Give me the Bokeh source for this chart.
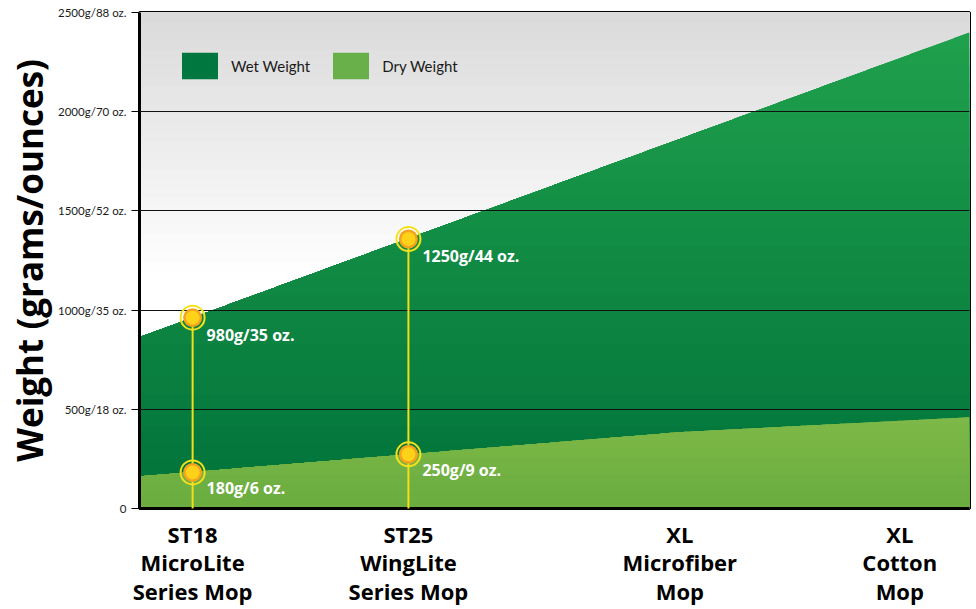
import numpy as np
from bokeh.plotting import figure
from bokeh.models import FixedTicker, Legend, LegendItem, Range1d
from bokeh.core.properties import value
from bokeh.embed import file_html
from bokeh.resources import INLINE

# ---------------- data ----------------
categories = ["ST18\nMicroLite\nSeries Mop", "ST25\nWingLite\nSeries Mop",
              "XL\nMicrofiber\nMop", "XL\nCotton\nMop"]
cat_x = [64, 324, 651, 916]

area_x = [0, 324, 651, 1000]
wet_weight = [864, 1361, 1863, 2399]
dry_weight = [162, 273, 385, 460]

marker_x = [64, 324]
marker_wet = [962, 1358]
marker_dry = [182, 273]
wet_labels = ["980g/35 oz.", "1250g/44 oz."]
dry_labels = ["180g/6 oz.", "250g/9 oz."]

y_ticks = [0, 500, 1000, 1500, 2000, 2500]
y_tick_labels = ["0", "500g/18 oz.", "1000g/35 oz.", "1500g/52 oz.",
                 "2000g/70 oz.", "2500g/88 oz."]

# ---------------- helpers ----------------
def hex2rgb(h):
    h = h.lstrip("#")
    return np.array([int(h[i:i + 2], 16) for i in (0, 2, 4)], dtype=float)

def lerp(c0, c1, t):
    a, b = hex2rgb(c0), hex2rgb(c1)
    c = a + (b - a) * t
    return "#%02x%02x%02x" % tuple(int(round(v)) for v in c)

W, H = 976, 609
BL, BR, BT, BB = 139, 7, 12, 101
p = figure(width=W, height=H, x_range=Range1d(0, 1000), y_range=Range1d(0, 2500),
           output_backend="svg", toolbar_location=None,
           min_border_left=BL, min_border_right=BR, min_border_top=BT, min_border_bottom=BB)
p.background_fill_color = "white"
p.border_fill_color = "white"
p.outline_line_color = "black"
p.outline_line_width = 3
frame_h = H - BT - BB

xs = np.linspace(0, 1000, 401)
wet_s = np.interp(xs, area_x, wet_weight)
dry_s = np.interp(xs, area_x, dry_weight)

# background grey gradient
n_bg = 30
for k in range(n_bg):
    t = k / (n_bg - 1)
    lvl = 1150 + t * 1350
    p.quad(left=0, right=1000, bottom=lvl, top=2500,
           fill_color=lerp("#ffffff", "#d9d9d9", t), line_color=None)

# wet weight area, vertical gradient
n_g = 30
top_col, bot_col = "#1fa04c", "#00713a"
p.varea(x=xs, y1=0, y2=wet_s, fill_color=top_col)
for k in range(n_g):
    t = k / (n_g - 1)
    lvl = 2400 * (1 - t)
    p.varea(x=xs, y1=0, y2=np.minimum(wet_s, lvl), fill_color=lerp(top_col, bot_col, t))

# dry weight area, vertical gradient
d_top, d_bot = "#7db848", "#69ac3e"
p.varea(x=xs, y1=0, y2=dry_s, fill_color=d_top)
n_d = 12
for k in range(n_d):
    t = k / (n_d - 1)
    lvl = 470 * (1 - t)
    p.varea(x=xs, y1=0, y2=np.minimum(dry_s, lvl), fill_color=lerp(d_top, d_bot, t))

# grid
p.xgrid.visible = False
p.ygrid.ticker = FixedTicker(ticks=y_ticks)
p.ygrid.grid_line_color = "#111111"
p.ygrid.grid_line_width = 1
p.ygrid.level = "guide"

# yellow drop lines and markers
p.segment(x0=marker_x, y0=0, x1=marker_x, y1=marker_wet,
          line_color="#f2df1a", line_width=2, level="annotation")
for ys in (marker_wet, marker_dry):
    p.scatter(x=marker_x, y=ys, size=24, fill_color=None, line_color="#f3e21c",
              line_width=2, level="annotation")
    p.scatter(x=marker_x, y=ys, size=19, fill_color="#f5a21c", line_color=None,
              level="annotation")
    p.scatter(x=marker_x, y=ys, size=14, fill_color="#fdd218", line_color=None,
              level="annotation")

p.text(x=marker_x, y=marker_wet, text=wet_labels, x_offset=14, y_offset=17,
       text_baseline="middle", text_align="left", text_color="white",
       text_font=value("Open Sans"), text_font_style="bold", text_font_size="16px",
       level="annotation")
p.text(x=marker_x, y=marker_dry, text=dry_labels, x_offset=14, y_offset=16,
       text_baseline="middle", text_align="left", text_color="white",
       text_font=value("Open Sans"), text_font_style="bold", text_font_size="16px",
       level="annotation")

# legend (swatch drawn with a 10% inset, so the glyph box is enlarged)
r_wet = p.quad(left=[0], right=[0], bottom=[0], top=[0],
               fill_color="#00773f", line_color=None)
r_dry = p.quad(left=[0], right=[0], bottom=[0], top=[0],
               fill_color="#6ab04a", line_color=None)
legend = Legend(items=[LegendItem(label="Wet Weight", renderers=[r_wet]),
                       LegendItem(label="Dry Weight", renderers=[r_dry])],
                orientation="horizontal", location=(38, frame_h - 37 - 33),
                glyph_width=45, glyph_height=33, label_standoff=9, spacing=18,
                padding=0, margin=0, border_line_color=None,
                background_fill_alpha=0,
                label_text_font="Lato", label_text_font_size="15px",
                label_text_color="#1a1a1a")
p.add_layout(legend, "center")

# axes
p.yaxis.ticker = FixedTicker(ticks=y_ticks)
p.yaxis.major_label_overrides = {v: s for v, s in zip(y_ticks, y_tick_labels)}
p.yaxis.major_label_text_font = "Lato"
p.yaxis.major_label_text_font_size = "11.5px"
p.yaxis.major_label_text_color = "#1a1a1a"
p.yaxis.major_tick_out = 8
p.yaxis.major_tick_in = 0
p.yaxis.major_tick_line_color = "black"
p.yaxis.minor_tick_line_color = None
p.yaxis.axis_line_color = "black"
p.yaxis.axis_line_width = 3
p.yaxis.major_label_standoff = 5
p.yaxis.axis_label = "Weight (grams/ounces)"
p.yaxis.axis_label_text_font = "Open Sans"
p.yaxis.axis_label_text_font_style = "bold"
p.yaxis.axis_label_text_font_size = "35px"
p.yaxis.axis_label_text_color = "black"
p.yaxis.axis_label_standoff = 2

p.xaxis.ticker = FixedTicker(ticks=cat_x)
p.xaxis.major_label_overrides = {v: s for v, s in zip(cat_x, categories)}
p.xaxis.major_label_text_font = "Open Sans"
p.xaxis.major_label_text_font_style = "bold"
p.xaxis.major_label_text_font_size = "22px"
p.xaxis.major_label_text_line_height = 0.95
p.xaxis.major_label_text_color = "black"
p.xaxis.major_tick_out = 0
p.xaxis.major_tick_in = 0
p.xaxis.minor_tick_line_color = None
p.xaxis.axis_line_color = "black"
p.xaxis.axis_line_width = 3
p.xaxis.major_label_standoff = 10

open("out.html", "w").write(file_html(p, INLINE))
